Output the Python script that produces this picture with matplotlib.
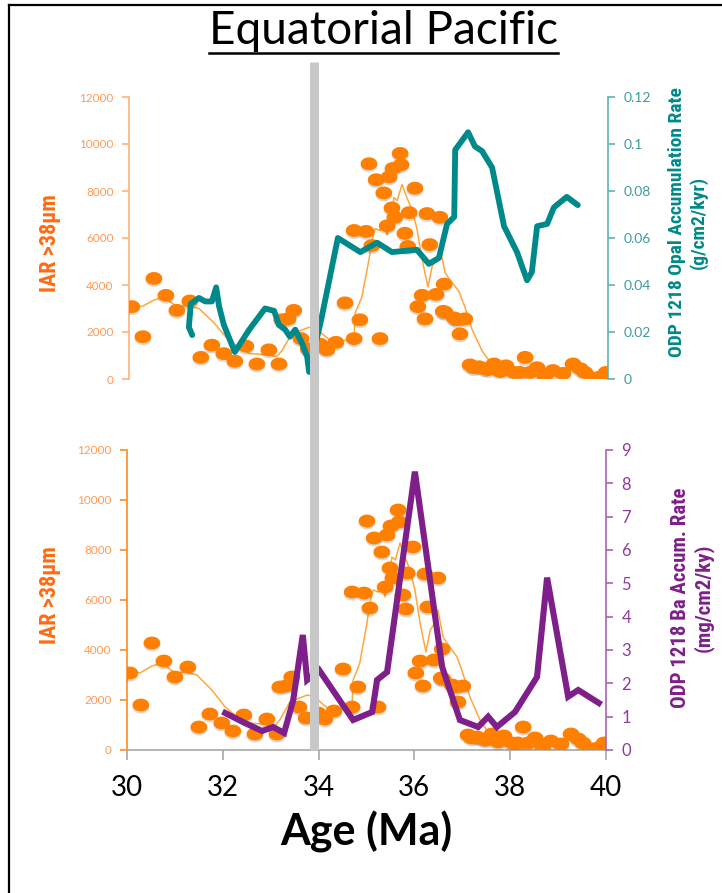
import numpy as np
import matplotlib
matplotlib.use("Agg")
import matplotlib.pyplot as plt
import matplotlib.patheffects as pe
from matplotlib.path import Path
from matplotlib.lines import Line2D
from matplotlib import font_manager

# IAR >38um (both panels show the same record)
iar_age = [30.06, 30.29, 30.52, 30.77, 31.00, 31.27, 31.50, 31.73, 31.98, 32.21,
           32.44, 32.67, 32.92, 33.13, 33.19, 33.32, 33.44, 33.59, 33.74, 33.99,
           34.13, 34.32, 34.51, 34.70, 34.70, 34.82, 34.95, 35.01, 35.07, 35.16,
           35.24, 35.32, 35.39, 35.43, 35.49, 35.51, 35.55, 35.66, 35.68, 35.76,
           35.82, 35.85, 35.97, 36.03, 36.12, 36.18, 36.22, 36.28, 36.41, 36.49,
           36.56, 36.58, 36.60, 36.79, 36.85, 36.91, 37.01, 37.12, 37.20, 37.31,
           37.43, 37.50, 37.62, 37.75, 37.87, 38.04, 38.16, 38.27, 38.37, 38.52,
           38.68, 38.85, 39.06, 39.27, 39.42, 39.52, 39.67, 39.83, 39.96]
iar = [3080, 1800, 4280, 3560, 2920, 3320, 920, 1440, 1080, 760,
       1400, 640, 1240, 640, 2520, 2560, 2920, 1720, 1280, 1480,
       1240, 1560, 3240, 1720, 6320, 2520, 6280, 9160, 5680, 8480,
       1720, 7920, 6520, 8600, 7280, 8960, 6880, 9600, 9120, 6200,
       5640, 7080, 8120, 3080, 3560, 2560, 7040, 5720, 3600, 6880,
       2880, 4040, 2840, 2600, 2520, 1920, 2560, 600, 480, 520,
       440, 400, 640, 320, 560, 280, 280, 920, 280, 480,
       120, 360, 240, 640, 440, 280, 40, 80, 280]

# smoothed IAR curve
smooth_age = [30.0, 30.27, 30.52, 30.73, 31.0, 31.21, 31.46, 31.77, 32.05, 32.32,
              32.53, 32.82, 33.09, 33.19, 33.40, 33.76, 33.92, 34.13, 34.30, 34.70,
              34.72, 34.86, 35.01, 35.07, 35.14, 35.24, 35.32, 35.39, 35.45, 35.53,
              35.60, 35.70, 35.80, 35.91, 36.01, 36.12, 36.24, 36.33, 36.43, 36.49,
              36.60, 36.68, 36.89, 37.01, 37.16, 37.37, 37.58, 37.93, 38.48, 38.89,
              39.31, 39.67, 39.98]
smooth_iar = [3200, 3080, 3360, 3480, 3080, 3120, 3000, 2400, 1720, 1280,
              1080, 1040, 960, 1200, 1920, 2200, 2120, 1760, 1480, 1800,
              2800, 3480, 5080, 5880, 6400, 6320, 6520, 6120, 6600, 7720,
              7600, 8280, 7720, 7200, 6400, 5080, 3920, 4800, 5080, 5600,
              4520, 4280, 3720, 3080, 2120, 1200, 600, 480, 400, 320,
              400, 280, 200]

# ODP 1218 opal accumulation rate (g/cm2/kyr)
opal_age = [31.32, 31.25, 31.29, 31.46, 31.59, 31.73, 31.82, 31.88, 31.98, 32.21,
            32.51, 32.84, 33.03, 33.13, 33.26, 33.36, 33.47, 33.61, 33.72, 33.76,
            34.01, 34.19, 34.36, 34.83, 35.18, 35.49, 36.01, 36.26, 36.47, 36.64,
            36.79, 36.81, 37.08, 37.22, 37.37, 37.58, 37.83, 38.10, 38.31, 38.41,
            38.52, 38.73, 38.87, 39.14, 39.37]
opal = [0.0187, 0.022, 0.032, 0.0345, 0.033, 0.033, 0.039, 0.031, 0.023, 0.0115,
        0.021, 0.030, 0.029, 0.023, 0.021, 0.018, 0.021, 0.0153, 0.0094, 0.003,
        0.025, 0.043, 0.060, 0.054, 0.058, 0.054, 0.055, 0.049, 0.0515, 0.066,
        0.069, 0.0975, 0.105, 0.099, 0.097, 0.090, 0.065, 0.054, 0.042, 0.0455,
        0.065, 0.066, 0.073, 0.0775, 0.074]

# ODP 1218 Ba accumulation rate (mg/cm2/ky)
ba_age = [32.05, 32.46, 32.82, 33.05, 33.28, 33.47, 33.67, 33.76, 34.01, 34.72,
          35.12, 35.22, 35.43, 36.01, 36.58, 36.95, 37.33, 37.54, 37.72, 38.10,
          38.56, 38.77, 39.21, 39.42, 39.85]
ba = [1.11, 0.81, 0.57, 0.69, 0.51, 1.5, 3.45, 2.1, 2.4, 0.9,
      1.14, 2.1, 2.34, 8.35, 2.49, 0.9, 0.69, 1.0, 0.69, 1.14,
      2.19, 5.17, 1.6, 1.8, 1.41]

eot_age = 33.9  # Eocene-Oligocene boundary
age_ticks = [30, 32, 34, 36, 38, 40]

ORANGE = "#FF7F00"
ORANGE_LINE = "#FFA63C"
TEAL = "#00898A"
PURPLE = "#7E1F8A"


def pick(*names):
    have = {f.name for f in font_manager.fontManager.ttflist}
    return [n for n in names if n in have] + ["DejaVu Sans"]


NARROW = pick("Liberation Sans Narrow", "Roboto Condensed", "Lato")
CAL = pick("Lato", "Open Sans")

W, H = 722, 893
fig = plt.figure(figsize=(W / 100, H / 100), dpi=100)


def axes_px(left, top, right, bottom):
    return fig.add_axes([left / W, 1 - bottom / H, (right - left) / W, (bottom - top) / H])


# elliptical dot marker
t = np.linspace(0, 2 * np.pi, 50)
dot = Path(np.column_stack([1.3 * np.cos(t), np.sin(t)]))
shadow = [pe.SimplePatchShadow(offset=(0, -1.5), alpha=0.18), pe.Normal()]


def draw_iar(ax):
    ax.plot(smooth_age, smooth_iar, color=ORANGE_LINE, lw=1.1, zorder=2)
    ax.plot(iar_age, iar, ls="none", marker=dot, ms=12, color=ORANGE,
            mec="none", zorder=3, path_effects=shadow)
    ax.set_xlim(30, 40)
    ax.set_ylim(0, 12000)
    ax.set_yticks(np.arange(0, 12001, 2000))


def style_left(ax, spine_color, label_color):
    ax.spines["left"].set_color(spine_color)
    ax.spines["left"].set_linewidth(1.2)
    ax.tick_params(axis="y", colors=spine_color, labelcolor=label_color,
                   direction="out", length=5, width=1.2, labelsize=8.5, pad=6)
    for lab in ax.get_yticklabels():
        lab.set_family(CAL)


# ---- top panel: IAR vs opal ----
ax1 = axes_px(129, 97, 608, 379)
draw_iar(ax1)
for s in ["top", "right", "bottom"]:
    ax1.spines[s].set_visible(False)
ax1.set_xticks([])
style_left(ax1, "#FFB27A", "#FF9A55")

ax1r = ax1.twinx()
ax1r.plot(opal_age, opal, color=TEAL, lw=4.2, solid_joinstyle="round",
          solid_capstyle="round", zorder=4)
ax1r.set_ylim(0, 0.12)
ax1r.set_yticks([0, 0.02, 0.04, 0.06, 0.08, 0.1, 0.12])
ax1r.set_yticklabels(["0", "0.02", "0.04", "0.06", "0.08", "0.1", "0.12"])
for s in ["top", "left", "bottom"]:
    ax1r.spines[s].set_visible(False)
ax1r.spines["right"].set_color("#5FB3B3")
ax1r.spines["right"].set_linewidth(1.2)
ax1r.tick_params(axis="y", colors="#5FB3B3", labelcolor="#3E9C9C", direction="out",
                 length=5, width=1.2, labelsize=10, pad=6)
for lab in ax1r.get_yticklabels():
    lab.set_family(CAL)

# ---- bottom panel: IAR vs Ba ----
ax2 = axes_px(127, 450, 606, 750)
draw_iar(ax2)
ax2.spines["top"].set_visible(False)
ax2.spines["right"].set_visible(False)
ax2.spines["bottom"].set_color("#A8A8A8")
ax2.spines["bottom"].set_linewidth(1.2)
style_left(ax2, "#FF8A1E", "#FF9A55")
ax2.set_xticks(age_ticks)
ax2.tick_params(axis="x", colors="#A8A8A8", labelcolor="black", direction="out",
                length=7, width=1.2, labelsize=20, pad=11)
for lab in ax2.get_xticklabels():
    lab.set_family(CAL)

ax2r = ax2.twinx()
ax2r.plot(ba_age, ba, color=PURPLE, lw=4.4, solid_joinstyle="miter", zorder=4)
ax2r.set_ylim(0, 9)
ax2r.set_yticks(range(10))
for s in ["top", "left", "bottom"]:
    ax2r.spines[s].set_visible(False)
ax2r.spines["right"].set_color("#A865B5")
ax2r.spines["right"].set_linewidth(1.2)
ax2r.tick_params(axis="y", colors="#A865B5", labelcolor="#8E3C9C", direction="out",
                 length=5, width=1.2, labelsize=12, pad=6)
for lab in ax2r.get_yticklabels():
    lab.set_family(CAL)

# grey boundary bar through both panels
ax2r.axvline(eot_age, ymin=0, ymax=(750 - 62) / 300, color="#C8C8C8", lw=6.5,
             solid_capstyle="butt", clip_on=False, zorder=10)

# axis titles
fig.text(50 / W, 1 - 243 / H, "IAR >38µm", rotation=90, ha="center", va="center",
         color="#FF6A10", fontsize=16, fontweight="bold", family=NARROW)
fig.text(50 / W, 1 - 595 / H, "IAR >38µm", rotation=90, ha="center", va="center",
         color="#FF6A10", fontsize=16, fontweight="bold", family=NARROW)
fig.text(688 / W, 1 - 222 / H, "ODP 1218 Opal Accumulation Rate\n(g/cm2/kyr)",
         rotation=90, ha="center", va="center", multialignment="center",
         color=TEAL, fontsize=14, fontweight="bold", family=NARROW, linespacing=1.2)
fig.text(692 / W, 1 - 598 / H, "ODP 1218 Ba Accum. Rate\n(mg/cm2/ky)",
         rotation=90, ha="center", va="center", multialignment="center",
         color=PURPLE, fontsize=15, fontweight="bold", family=NARROW, linespacing=1.2)

fig.text(366 / W, 1 - 832 / H, "Age (Ma)", ha="center", va="center",
         fontsize=31, fontweight="bold", family=CAL)

title = fig.text(383 / W, 1 - 31 / H, "Equatorial Pacific", ha="center", va="center",
                 fontsize=33, family=CAL)

# frame on the left and top edges
fig.add_artist(Line2D([9 / W, 9 / W], [0, 1 - 5 / H], color="black", lw=1.6))
fig.add_artist(Line2D([9 / W, 1], [1 - 5 / H, 1 - 5 / H], color="black", lw=1.6))

# underline the title
fig.canvas.draw()
bb = title.get_window_extent()
y_ul = (bb.y0 - 1) / H
fig.add_artist(Line2D([bb.x0 / W, bb.x1 / W], [y_ul, y_ul], color="black", lw=1.8))

fig.savefig("out.png", dpi=100)
